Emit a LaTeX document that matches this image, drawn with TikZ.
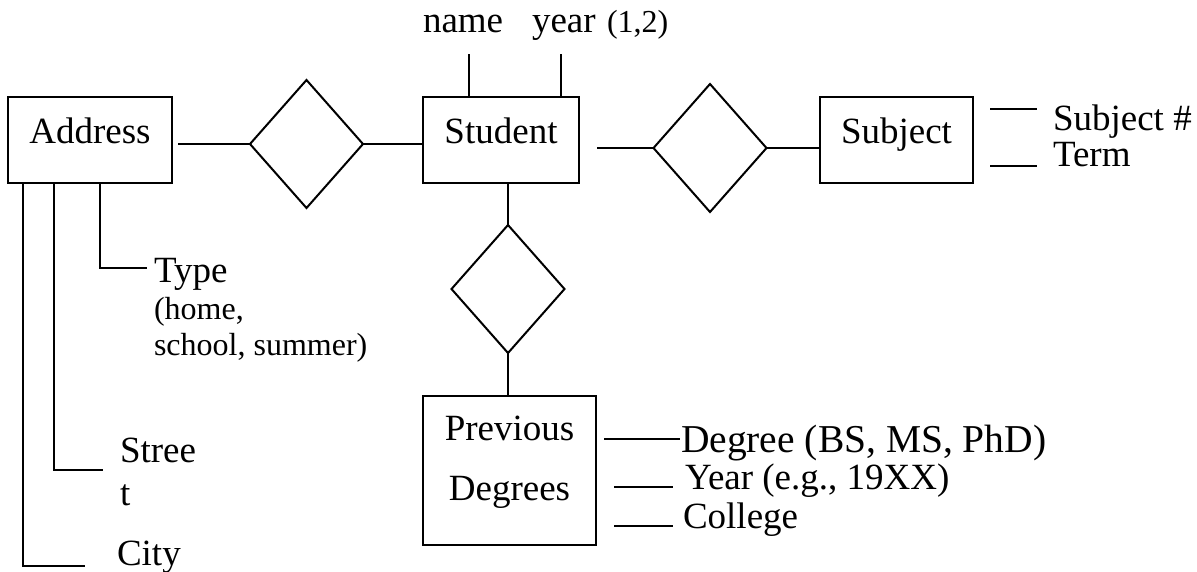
\documentclass[tikz,border=0pt]{standalone}
\usepackage{fontspec}
\setmainfont{Liberation Serif}
\usetikzlibrary{shapes.geometric}
\newcommand\bigtxt{\fontsize{37}{37}\selectfont}
\newcommand\smalltxt{\fontsize{32}{32}\selectfont}
\newcommand\degtxt{\fontsize{39.5}{39.5}\selectfont}
\begin{document}
\begin{tikzpicture}[x=1pt,y=-1pt, line width=2pt,
 ent/.style={draw, rectangle, inner sep=0, outer sep=0},
 rel/.style={draw, diamond, inner sep=0, outer sep=0, minimum width=113pt, minimum height=128pt},
 lbl/.style={inner sep=0, outer sep=0, font=\bigtxt},
 sml/.style={inner sep=0, outer sep=0, font=\smalltxt}]
\useasboundingbox (0,0) rectangle (1197,571);

% entities
\node[ent, minimum width=164pt, minimum height=86pt] (addr) at (90,140) {};
\node[lbl, anchor=base] (addrT) at (90,143) {Address};
\node[ent, minimum width=156pt, minimum height=86pt] (stu) at (501,140) {};
\node[lbl, anchor=base] (stuT) at (501,143) {Student};
\node[ent, minimum width=153pt, minimum height=86pt] (subj) at (896.5,140) {};
\node[lbl, anchor=base] (subjT) at (896.5,143) {Subject};
\node[ent, minimum width=173pt, minimum height=149pt] (prev) at (509.5,470.5) {};
\node[lbl, anchor=base] (prevT1) at (509.5,440) {Previous};
\node[lbl, anchor=base] (prevT2) at (509.5,500) {Degrees};

% relationships
\node[rel] (r1) at (306.5,144) {};
\node[rel] (r2) at (710,148) {};
\node[rel] (r3) at (508,289) {};

% connectors
\coordinate (a1) at (178,144);
\draw (a1) -- (r1.west);
\draw (r1.east) -- (r1.east -| stu.west);
\coordinate (s1) at (597,148);
\draw (s1) -- (r2.west);
\draw (r2.east) -- (r2.east -| subj.west);
\draw (r3.north) -- (r3.north |- stu.south);
\draw (r3.south) -- (r3.south |- prev.north);

% student attributes
\node[lbl, anchor=base west] (nameT) at (423,32) {name};
\node[lbl, anchor=base west] (yearT) at (532,32) {year};
\node[sml, anchor=base west] (yearS) at (607,32) {(1,2)};
\coordinate (n1) at (469,54);
\draw (n1) -- (n1 |- stu.north);
\coordinate (y1) at (561,54);
\draw (y1) -- (y1 |- stu.north);

% subject attributes
\coordinate (sa1) at (990,109); \coordinate (sa2) at (1037,109);
\draw (sa1) -- (sa2);
\node[lbl, anchor=base west] (subjnum) at (1053,130) {Subject \#};
\coordinate (sb1) at (990,166); \coordinate (sb2) at (1037,166);
\draw (sb1) -- (sb2);
\node[lbl, anchor=base west] (term) at (1053,166) {Term};

% address attributes
\coordinate (t0) at (100,268); \coordinate (t1) at (147,268);
\draw (t0 |- addr.south) -- (t0) -- (t1);
\node[lbl, anchor=base west] (typeT) at (154,282) {Type};
\node[sml, anchor=base west] (typeA) at (154,319) {(home,};
\node[sml, anchor=base west] (typeB) at (154,355) {school, summer)};
\coordinate (st0) at (54,470); \coordinate (st1) at (103,470);
\draw (st0 |- addr.south) -- (st0) -- (st1);
\node[lbl, anchor=base west] (streetA) at (120,462) {Stree};
\node[lbl, anchor=base west] (streetB) at (120,505) {t};
\coordinate (c0) at (23,566); \coordinate (c1) at (85,566);
\draw (c0 |- addr.south) -- (c0) -- (c1);
\node[lbl, anchor=base west] (cityT) at (117,565) {City};

% previous degree attributes
\coordinate (d0) at (604,439); \coordinate (d1) at (680,439);
\draw (d0) -- (d1);
\node[lbl, font=\degtxt, anchor=base west] (degT) at (681,452) {Degree (BS, MS, PhD)};
\coordinate (e0) at (614,487); \coordinate (e1) at (673,487);
\draw (e0) -- (e1);
\node[lbl, anchor=base west] (yrT) at (685,489) {Year (e.g., 19XX)};
\coordinate (f0) at (614,526); \coordinate (f1) at (673,526);
\draw (f0) -- (f1);
\node[lbl, anchor=base west] (colT) at (683,528) {College};
\end{tikzpicture}
\end{document}
